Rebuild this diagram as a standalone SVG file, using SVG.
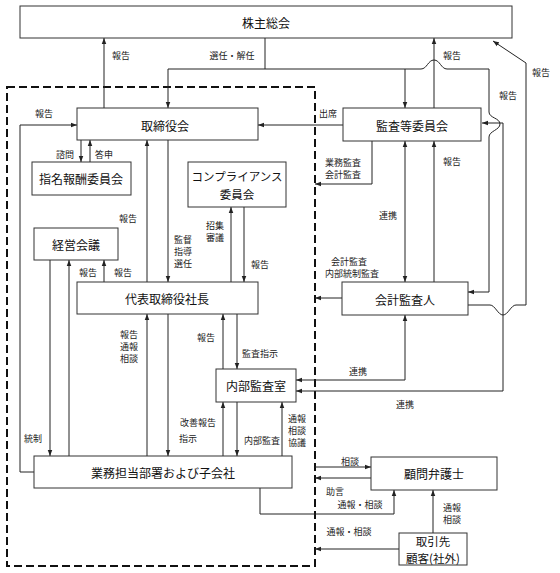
<svg xmlns="http://www.w3.org/2000/svg" width="560" height="573" viewBox="0 0 560 573">
<defs>
<marker id="a" viewBox="0 0 10 10" refX="10" refY="5" markerWidth="6" markerHeight="6" markerUnits="userSpaceOnUse" orient="auto-start-reverse"><path d="M0,1.2 L10,5 L0,8.8 z" fill="#222"/></marker>
<style>
.box{fill:#fff;stroke:#333;stroke-width:1}
.bt{font-family:"Noto Sans CJK JP","Noto Sans",sans-serif;font-size:12px;fill:#111;text-anchor:middle;dominant-baseline:central}
.bt2{font-size:11.5px}
.lb{font-family:"Noto Sans CJK JP","Noto Sans",sans-serif;font-size:9px;fill:#222;text-anchor:middle;dominant-baseline:central}
.c{fill:none;stroke:#222;stroke-width:1}
.e{marker-end:url(#a)}
.s{marker-start:url(#a)}
.dash{fill:none;stroke:#111;stroke-width:2;stroke-dasharray:8 4}
</style>
</defs>
<rect x="0" y="0" width="560" height="573" fill="#fff"/>
<rect id="group-boundary" class="dash" x="7" y="87" width="308" height="479"/>

<g id="connectors">
<path class="c e" d="M104,108 V38"/>
<path class="c e" d="M265,38 V69 H168 V108"/>
<path class="c e" d="M265,69 H421 C427,69 428,60 434,60 C440,60 441,69 447,69 H489 V112 C489,118 500,118 500,124 C500,130 489,131 489,137 V292 H468"/>
<path class="c e" d="M405,69 V108"/>
<path class="c e" d="M434,108 V38"/>
<path class="c e" d="M343,125 H258"/>
<path class="c e" d="M372,141 V184 H315"/>
<path class="c e s" d="M405,141 V282"/>
<path class="c e" d="M434,282 V141"/>
<path class="c e" d="M342,298 H315"/>
<path class="c e s" d="M296,380 H405 V315"/>
<path class="c e s" d="M482,123 H503 V391 H296"/>
<path class="c e" d="M468,305 H490 C495,305 498,315 503,315 C508,315 511,305 516,305 H526 V63 L493,41"/>
<path class="c e" d="M34,472 H20 V125 H77"/>
<path class="c e" d="M81,140 V162"/>
<path class="c e" d="M90,162 V140"/>
<path class="c e" d="M168,140 V282"/>
<path class="c e" d="M147,282 V140"/>
<path class="c e" d="M231,282 V207"/>
<path class="c e" d="M244,207 V282"/>
<path class="c e" d="M69,456 V260"/>
<path class="c e" d="M104,282 V260"/>
<path class="c e" d="M50,260 V456"/>
<path class="c e" d="M168,314 V456"/>
<path class="c e" d="M147,456 V314"/>
<path class="c e" d="M223,369 V314"/>
<path class="c e" d="M237,314 V369"/>
<path class="c e" d="M223,456 V402"/>
<path class="c e" d="M237,402 V456"/>
<path class="c e" d="M282,456 V402"/>
<path class="c e" d="M315,467 H371"/>
<path class="c e" d="M371,478 H315"/>
<path class="c e" d="M260,488 V514 H394 V490"/>
<path class="c e" d="M433,533 V490"/>
<path class="c e" d="M399,549 H315"/>
</g>

<g id="labels">
<text class="lb" x="121" y="55">報告</text>
<text class="lb" x="232" y="55">選任・解任</text>
<text class="lb" x="452" y="55">報告</text>
<text class="lb" x="541" y="72">報告</text>
<text class="lb" x="508" y="95">報告</text>
<text class="lb" x="328" y="113">出席</text>
<text class="lb" x="44" y="113">報告</text>
<text class="lb" x="65" y="154">諮問</text>
<text class="lb" x="104" y="154">答申</text>
<text class="lb" x="343" y="162">業務監査</text>
<text class="lb" x="343" y="174">会計監査</text>
<text class="lb" x="452" y="161">報告</text>
<text class="lb" x="128" y="218">報告</text>
<text class="lb" x="388" y="215">連携</text>
<text class="lb" x="215" y="225">招集</text>
<text class="lb" x="215" y="237">審議</text>
<text class="lb" x="183" y="239">監督</text>
<text class="lb" x="183" y="251">指導</text>
<text class="lb" x="183" y="263">選任</text>
<text class="lb" x="260" y="264">報告</text>
<text class="lb" x="349" y="261">会計監査</text>
<text class="lb" x="352" y="273">内部統制監査</text>
<text class="lb" x="88" y="272">報告</text>
<text class="lb" x="123" y="272">報告</text>
<text class="lb" x="129" y="334">報告</text>
<text class="lb" x="129" y="346">通報</text>
<text class="lb" x="129" y="358">相談</text>
<text class="lb" x="206" y="337">報告</text>
<text class="lb" x="260" y="353">監査指示</text>
<text class="lb" x="358" y="371">連携</text>
<text class="lb" x="405" y="404">連携</text>
<text class="lb" x="198" y="422">改善報告</text>
<text class="lb" x="297" y="418">通報</text>
<text class="lb" x="297" y="430">相談</text>
<text class="lb" x="297" y="442">協議</text>
<text class="lb" x="33" y="438">統制</text>
<text class="lb" x="188" y="438">指示</text>
<text class="lb" x="262" y="440">内部監査</text>
<text class="lb" x="350" y="461">相談</text>
<text class="lb" x="335" y="491">助言</text>
<text class="lb" x="360" y="504">通報・相談</text>
<text class="lb" x="452" y="507">通報</text>
<text class="lb" x="452" y="519">相談</text>
<text class="lb" x="349" y="531">通報・相談</text>
</g>

<g id="n-shareholders"><rect class="box" x="20" y="6" width="492" height="32"/><text class="bt" x="266" y="22">株主総会</text></g>
<g id="n-board"><rect class="box" x="77" y="108" width="181" height="32"/><text class="bt" x="165" y="125">取締役会</text></g>
<g id="n-audit-committee"><rect class="box" x="343" y="108" width="138" height="33"/><text class="bt" x="412" y="125">監査等委員会</text></g>
<g id="n-nomination"><rect class="box" x="32" y="162" width="99" height="33"/><text class="bt" x="81" y="178">指名報酬委員会</text></g>
<g id="n-compliance"><rect class="box" x="188" y="162" width="98" height="45"/><text class="bt bt2" x="237" y="176">コンプライアンス</text><text class="bt bt2" x="237" y="193.5">委員会</text></g>
<g id="n-management"><rect class="box" x="34" y="228" width="84" height="32"/><text class="bt" x="76" y="244">経営会議</text></g>
<g id="n-president"><rect class="box" x="77" y="282" width="181" height="32"/><text class="bt" x="167" y="298">代表取締役社長</text></g>
<g id="n-auditor"><rect class="box" x="342" y="282" width="126" height="33"/><text class="bt" x="405" y="299">会計監査人</text></g>
<g id="n-internal-audit"><rect class="box" x="216" y="369" width="80" height="33"/><text class="bt" x="256" y="385">内部監査室</text></g>
<g id="n-departments"><rect class="box" x="34" y="456" width="258" height="32"/><text class="bt" x="163" y="472">業務担当部署および子会社</text></g>
<g id="n-lawyer"><rect class="box" x="371" y="457" width="126" height="33"/><text class="bt" x="434" y="473">顧問弁護士</text></g>
<g id="n-clients"><rect class="box" x="399" y="533" width="68" height="32"/><text class="bt bt2" x="433" y="540.5">取引先</text><text class="bt bt2" x="433" y="557.5">顧客(社外)</text></g>
</svg>
